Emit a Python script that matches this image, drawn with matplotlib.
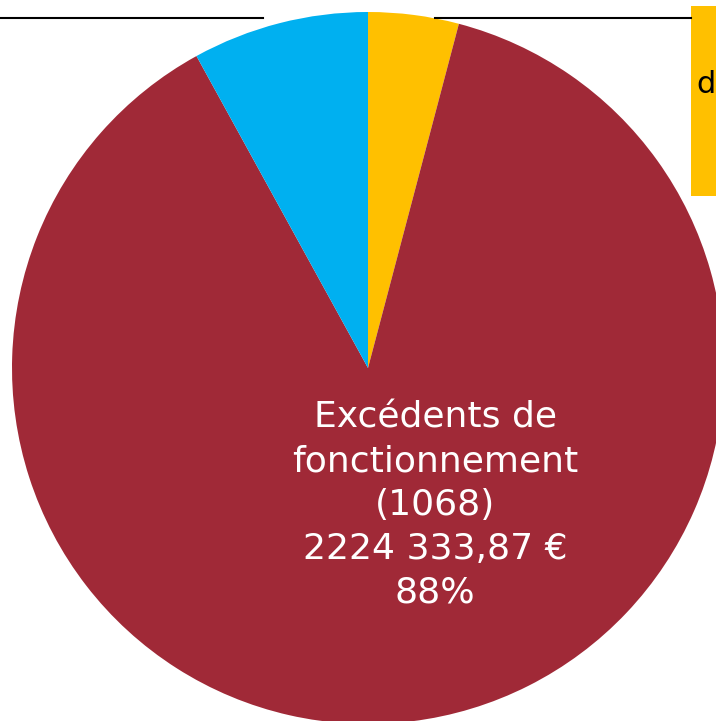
import matplotlib.pyplot as plt
from matplotlib.patches import Rectangle

# Slices, clockwise from 12 o'clock
labels = ["Autres recettes", "Excédents de fonctionnement (1068)", "Autres"]
values = [104000, 2224333.87, 202500]
colors = ["#FFC000", "#A02937", "#00B0F0"]

main_label = "Excédents de\nfonctionnement\n(1068)\n2224 333,87 €\n88%"

W, H = 716, 721
fig = plt.figure(figsize=(W / 100, H / 100), dpi=100)
ax = fig.add_axes([0, 0, 1, 1])

cx, cy, r = 368, H - 368, 356
ax.pie(values, colors=colors, startangle=90, counterclock=False,
       center=(cx, cy), radius=r, frame=True,
       wedgeprops=dict(linewidth=0))
ax.set_xlim(0, W)
ax.set_ylim(0, H)
ax.set_aspect("equal")
ax.axis("off")

ax.text(435, H - 505, main_label, color="white", fontsize=26,
        ha="center", va="center", linespacing=1.36)

# leader lines to outside labels
ax.plot([0, 263], [H - 18, H - 18], color="black", lw=1.5)
ax.plot([435, 691], [H - 18, H - 18], color="black", lw=1.5)

# label box on the right (cut by the edge, as in the source)
ax.add_patch(Rectangle((691, H - 196), 120, 190, color="#FFC000", lw=0))
ax.text(696, H - 93, "d", color="black", fontsize=22, ha="left", va="baseline")

fig.savefig("out.png", dpi=100)
